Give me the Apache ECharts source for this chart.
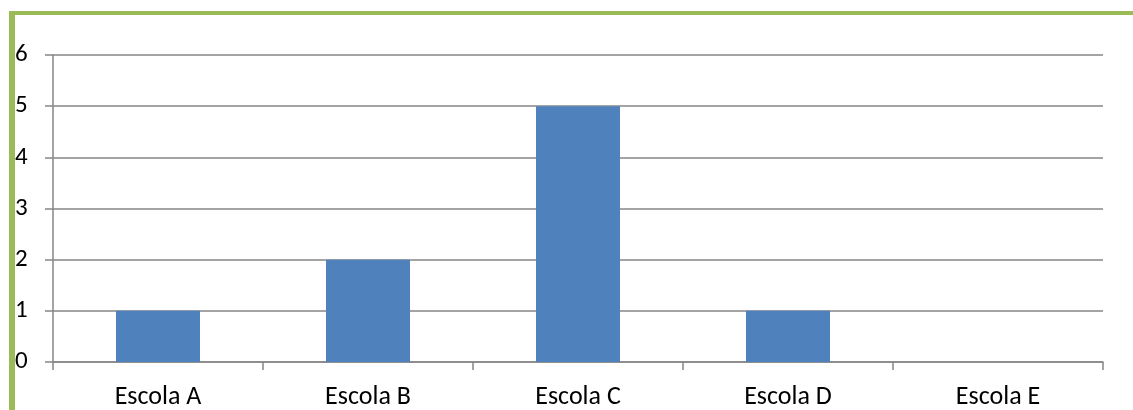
<!DOCTYPE html>
<html>
<head>
<meta charset="utf-8">
<script src="https://cdn.jsdelivr.net/npm/echarts@6/dist/echarts.min.js"></script>
<style>
  html, body { margin: 0; padding: 0; background: #ffffff; }
  #chart { width: 1133px; height: 410px; }
</style>
</head>
<body>
<div id="chart"></div>
<script>
// Number per school
const categories = ['Escola A', 'Escola B', 'Escola C', 'Escola D', 'Escola E'];
const values = [1, 2, 5, 1, 0];
const yTicks = { min: 0, max: 6, interval: 1 };

const chart = echarts.init(document.getElementById('chart'));
const axisGray = '#868686';
const fontFamily = 'Carlito, Calibri, "Open Sans", "Noto Sans", sans-serif';

chart.setOption({
  animation: false,
  backgroundColor: '#ffffff',
  graphic: [
    // green frame along the top and left edges
    { type: 'rect', shape: { x: 9, y: 11, width: 1124, height: 4 }, style: { fill: '#9BBB59' } },
    { type: 'rect', shape: { x: 9, y: 11, width: 6, height: 399 }, style: { fill: '#9BBB59' } }
  ],
  grid: { left: 53, right: 30, top: 55, bottom: 48 },
  xAxis: {
    type: 'category',
    data: categories,
    axisLine: { show: true, lineStyle: { color: axisGray, width: 1.5 } },
    axisTick: { show: true, alignWithLabel: false, length: 8, lineStyle: { color: axisGray, width: 1.5 } },
    axisLabel: { color: '#000000', fontSize: 26, lineHeight: 26, fontFamily: fontFamily, margin: 22 }
  },
  yAxis: {
    type: 'value',
    min: yTicks.min,
    max: yTicks.max,
    interval: yTicks.interval,
    axisLine: { show: true, lineStyle: { color: axisGray, width: 1.5 } },
    axisTick: { show: true, length: 8, lineStyle: { color: axisGray, width: 1.5 } },
    axisLabel: { color: '#000000', fontSize: 25, fontFamily: fontFamily, align: 'left', margin: 38 },
    splitLine: { show: true, lineStyle: { color: axisGray, width: 1.5 } }
  },
  series: [{
    type: 'bar',
    data: values,
    barWidth: '40%',
    itemStyle: { color: '#4F81BD' }
  }]
});
</script>
</body>
</html>
